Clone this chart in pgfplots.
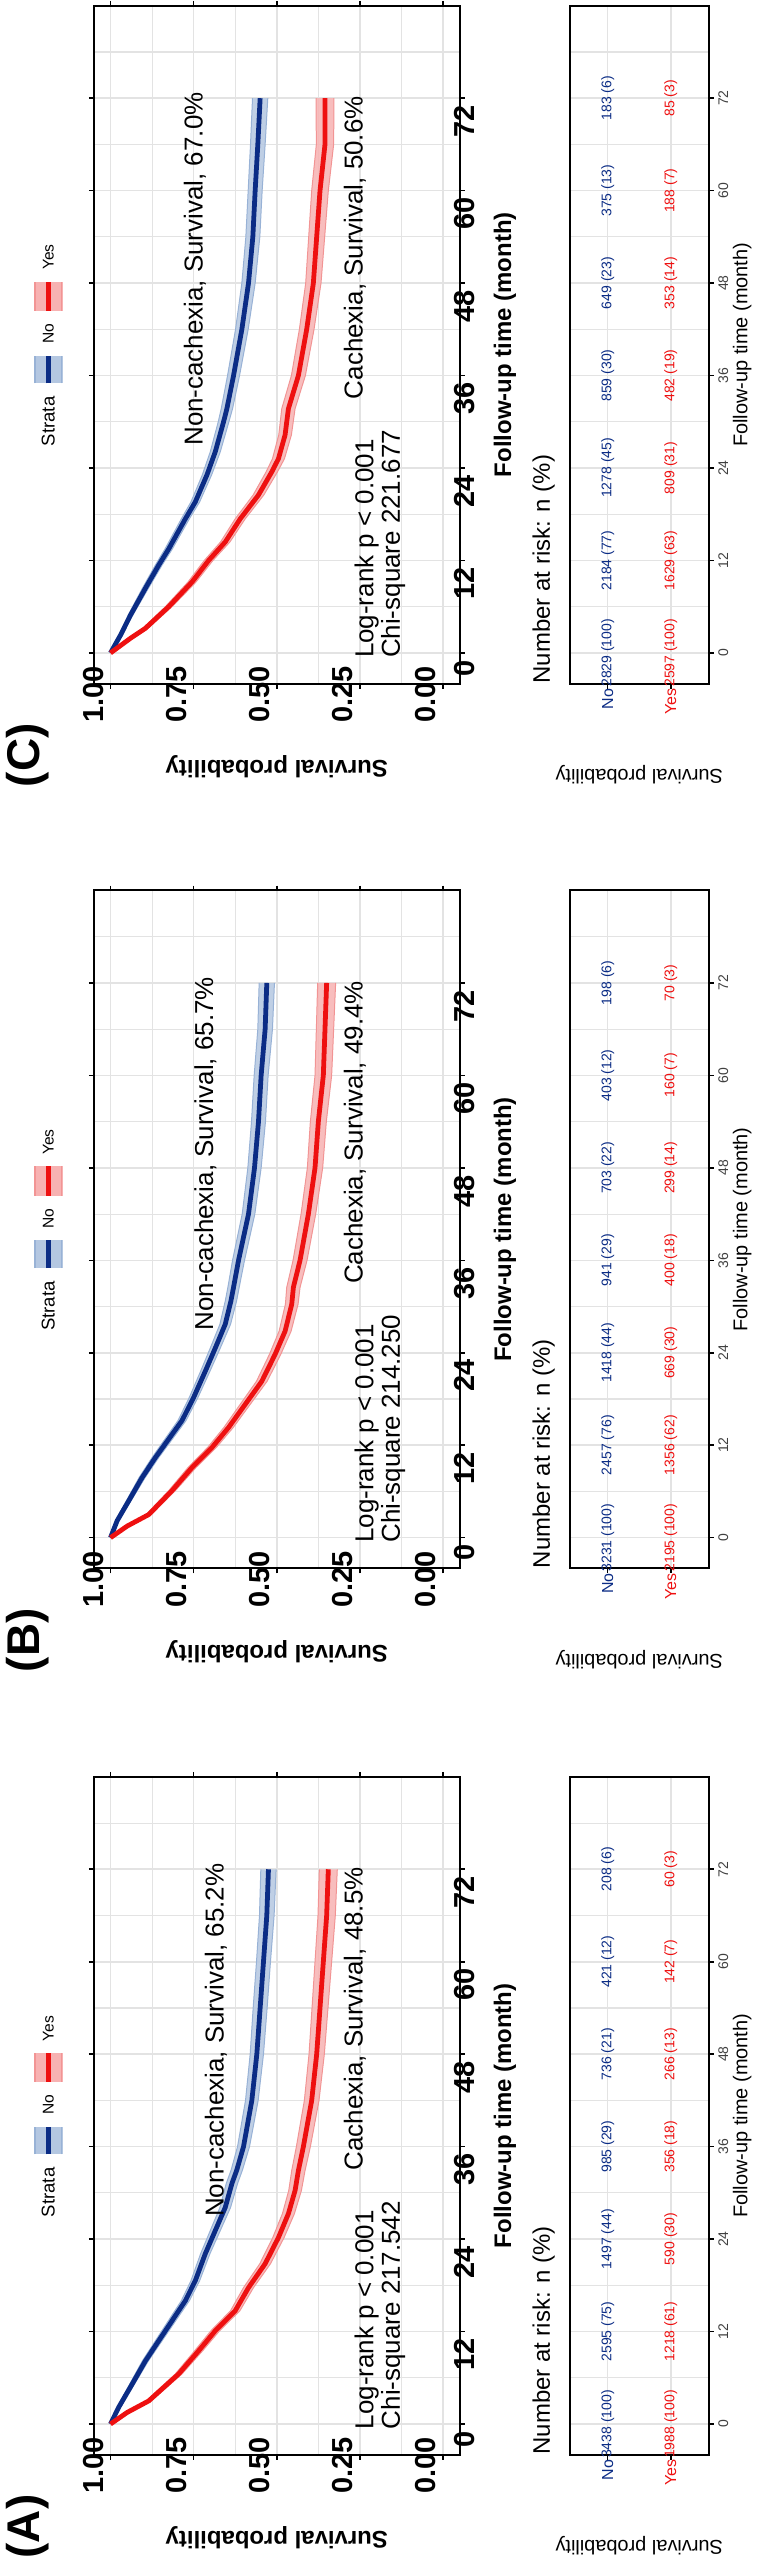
\documentclass[border=0pt]{standalone}
\usepackage{fontspec}
\setmainfont{Liberation Sans}
\usepackage{pgfplots}
\usepackage{pgfplotstable}
\pgfplotsset{compat=1.18}
\usepgfplotslibrary{fillbetween}
\definecolor{navyline}{HTML}{0B2C85}
\definecolor{redline}{HTML}{EE1010}
\definecolor{bandblue}{HTML}{B4C7E1}
\definecolor{bandred}{HTML}{F7B2B2}
\definecolor{edgeblue}{HTML}{98B2D6}
\definecolor{edgered}{HTML}{F29494}
\definecolor{gridc}{HTML}{E3E3E3}

\pgfplotstableread{
t s lo hi
0 1.000 1.000 1.000
2.2 0.975 0.970 0.980
4.8 0.940 0.933 0.947
8.2 0.895 0.886 0.904
10.8 0.855 0.845 0.865
13.4 0.815 0.804 0.826
16.0 0.775 0.763 0.787
18.6 0.745 0.732 0.758
22.1 0.715 0.701 0.729
25.1 0.685 0.670 0.700
28.1 0.655 0.639 0.671
31.2 0.635 0.618 0.652
33.0 0.620 0.603 0.637
36 0.600 0.582 0.618
42 0.575 0.556 0.594
48 0.560 0.540 0.580
54 0.550 0.529 0.571
60 0.540 0.519 0.561
66 0.530 0.508 0.552
72 0.525 0.502 0.548
}\ANo
\pgfplotstableread{
t s lo hi
0 1.000 1.000 1.000
1.5 0.950 0.944 0.956
3.0 0.885 0.877 0.893
6.5 0.795 0.785 0.805
9.5 0.735 0.723 0.747
12.1 0.685 0.672 0.698
14.7 0.625 0.611 0.639
17.7 0.585 0.570 0.600
20.8 0.535 0.519 0.551
24.2 0.495 0.478 0.512
27.3 0.465 0.447 0.483
30.3 0.445 0.426 0.464
32.9 0.435 0.415 0.455
36 0.420 0.399 0.441
42 0.395 0.373 0.417
48 0.380 0.357 0.403
54 0.370 0.346 0.394
60 0.360 0.335 0.385
66 0.350 0.324 0.376
72 0.345 0.318 0.372
}\AYes
\pgfplotstableread{
t s lo hi
0 1.000 1.000 1.000
2.2 0.980 0.975 0.985
4.8 0.945 0.938 0.952
7.8 0.905 0.896 0.914
10.4 0.865 0.855 0.875
12.8 0.825 0.814 0.836
15.2 0.785 0.773 0.797
18.2 0.750 0.737 0.763
21.6 0.715 0.701 0.729
24.6 0.685 0.670 0.700
27.7 0.655 0.639 0.671
30.7 0.638 0.621 0.655
32.5 0.630 0.613 0.647
36 0.615 0.597 0.633
42 0.585 0.566 0.604
48 0.567 0.547 0.587
54 0.555 0.534 0.576
60 0.547 0.526 0.568
66 0.535 0.513 0.557
72 0.530 0.507 0.553
}\BNo
\pgfplotstableread{
t s lo hi
0 1.000 1.000 1.000
1.5 0.950 0.944 0.956
3.0 0.885 0.877 0.893
6.1 0.815 0.805 0.825
9.1 0.755 0.743 0.767
11.7 0.695 0.682 0.708
14.3 0.645 0.631 0.659
17.3 0.595 0.580 0.610
20.3 0.545 0.529 0.561
23.8 0.505 0.488 0.522
26.8 0.475 0.457 0.493
30.3 0.455 0.436 0.474
32.5 0.450 0.430 0.470
36 0.430 0.409 0.451
42 0.405 0.383 0.427
48 0.385 0.362 0.408
54 0.375 0.351 0.399
60 0.360 0.335 0.385
66 0.355 0.329 0.381
72 0.350 0.323 0.377
}\BYes
\pgfplotstableread{
t s lo hi
0 1.000 1.000 1.000
2.3 0.970 0.965 0.975
4.9 0.940 0.933 0.947
8.4 0.895 0.886 0.904
11.4 0.855 0.845 0.865
13.5 0.825 0.814 0.836
17.4 0.775 0.763 0.787
19.6 0.745 0.732 0.758
23.1 0.710 0.696 0.724
26.1 0.685 0.670 0.700
30.0 0.660 0.644 0.676
31.7 0.650 0.633 0.667
36 0.630 0.612 0.648
42 0.605 0.586 0.624
48 0.585 0.565 0.605
54 0.572 0.551 0.593
60 0.565 0.544 0.586
66 0.557 0.535 0.579
72 0.550 0.527 0.573
}\CNo
\pgfplotstableread{
t s lo hi
0 1.000 1.000 1.000
1.9 0.940 0.934 0.946
3.2 0.895 0.887 0.903
6.0 0.825 0.815 0.835
9.2 0.755 0.743 0.767
12.0 0.705 0.692 0.718
14.4 0.655 0.641 0.669
17.4 0.610 0.595 0.625
20.5 0.555 0.539 0.571
23.5 0.515 0.498 0.532
25.2 0.495 0.477 0.513
28.3 0.475 0.456 0.494
31.7 0.465 0.445 0.485
36 0.435 0.414 0.456
42 0.410 0.388 0.432
48 0.390 0.367 0.413
54 0.380 0.356 0.404
60 0.370 0.345 0.395
66 0.355 0.329 0.381
72 0.355 0.328 0.382
}\CYes

\tikzset{annot/.style={inner sep=0pt, font=\fontsize{13}{13.3}\selectfont}}
\pgfplotsset{
  kmaxis/.style={
    scale only axis, width=339.75pt, height=183.3pt, anchor=south west, clip=false,
    xmin=-4, xmax=84, ymin=-0.05, ymax=1.05,
    xtick={0,12,24,36,48,60,72}, xticklabels={0,12,24,36,48,60,72},
    minor xtick={6,18,30,42,54,66,78},
    ytick={0,0.25,0.5,0.75,1}, yticklabels={0.00,0.25,0.50,0.75,1.00},
    minor ytick={0.125,0.375,0.625,0.875},
    grid=both, major grid style={gridc, line width=0.8pt}, minor grid style={gridc, line width=0.55pt},
    axis line style={black, line width=1pt},
    tick align=outside, major tick length=2.5pt, minor tick length=0pt,
    tick style={black, line width=0.8pt},
    ticklabel style={font=\bfseries\fontsize{14.5}{14.5}\selectfont},
    yticklabel shift=3pt,
    /pgf/number format/assume math mode=true,
  },
  riskno/.style={forget plot, draw=none, mark=none,
    nodes near coords, point meta=explicit symbolic,
    every node near coord/.append style={anchor=center, inner sep=0pt, text=navyline, font=\fontsize{7}{7}\selectfont}},
  riskyes/.style={forget plot, draw=none, mark=none,
    nodes near coords, point meta=explicit symbolic,
    every node near coord/.append style={anchor=center, inner sep=0pt, text=redline, font=\fontsize{7}{7}\selectfont}},
}
% decorations of each KM panel (legend, axis titles), in axis units
\newcommand\kmdeco[1]{%
  \node[font=\bfseries\fontsize{12}{12}\selectfont] at (axis cs:40,-0.186) {Follow-up time (month)};
  \node[font=\bfseries\fontsize{12}{12}\selectfont, rotate=90] at (axis cs:-14.75,0.5) {Survival probability};
  \node[font=\bfseries\fontsize{23}{23}\selectfont] at (axis cs:-13.3,1.248) {(#1)};
  \node[font=\fontsize{9.3}{9.3}\selectfont] at (axis cs:30.06,1.187) {Strata};
  \fill[bandblue] (axis cs:35.0,1.1435) rectangle (axis cs:38.6,1.2305);
  \draw[edgeblue, line width=0.6pt] (axis cs:35.0,1.147) -- (axis cs:38.6,1.147) (axis cs:35.0,1.227) -- (axis cs:38.6,1.227);
  \draw[navyline, line width=2.5pt] (axis cs:35.0,1.187) -- (axis cs:38.6,1.187);
  \node[font=\fontsize{7.8}{7.8}\selectfont] at (axis cs:41.45,1.187) {No};
  \fill[bandred] (axis cs:44.4,1.1435) rectangle (axis cs:48.2,1.2305);
  \draw[edgered, line width=0.6pt] (axis cs:44.4,1.147) -- (axis cs:48.2,1.147) (axis cs:44.4,1.227) -- (axis cs:48.2,1.227);
  \draw[redline, line width=2.5pt] (axis cs:44.4,1.187) -- (axis cs:48.2,1.187);
  \node[font=\fontsize{7.8}{7.8}\selectfont] at (axis cs:51.36,1.187) {Yes};
}
% risk table frame below the KM box (rows No at -0.495, Yes at -0.685 in survival units)
\newcommand\tabdeco{%
  \pgfplotsinvokeforeach{6,18,30,42,54,66,78}{\draw[gridc, line width=0.55pt] (axis cs:##1,-0.7996) -- (axis cs:##1,-0.381);}
  \pgfplotsinvokeforeach{0,12,24,36,48,60,72}{\draw[gridc, line width=0.8pt] (axis cs:##1,-0.7996) -- (axis cs:##1,-0.381);}
  \draw[gridc, line width=0.8pt] (axis cs:-4,-0.495) -- (axis cs:84,-0.495) (axis cs:-4,-0.685) -- (axis cs:84,-0.685);
  \draw[black, line width=1pt] (axis cs:-4,-0.7996) rectangle (axis cs:84,-0.381);
  \pgfplotsinvokeforeach{0,12,24,36,48,60,72}{%
    \draw[black, line width=0.8pt] (axis cs:##1,-0.7996) -- ++(0pt,-2.5pt);
    \node[font=\fontsize{7}{7}\selectfont, text=black!75] at (axis cs:##1,-0.843) {##1};}
  \draw[black, line width=0.8pt] (axis cs:-4,-0.495) -- ++(-2.5pt,0pt) (axis cs:-4,-0.685) -- ++(-2.5pt,0pt);
  \node[anchor=east, inner sep=0pt, text=navyline, font=\fontsize{8}{8}\selectfont] at (axis cs:-4.6,-0.495) {No};
  \node[anchor=east, inner sep=0pt, text=redline, font=\fontsize{8}{8}\selectfont] at (axis cs:-4.6,-0.685) {Yes};
  \node[font=\fontsize{10}{10}\selectfont] at (axis cs:40,-0.9) {Follow-up time (month)};
  \node[font=\fontsize{10}{10}\selectfont, rotate=90] at (axis cs:-15.8,-0.59) {Survival probability};
  \node[font=\fontsize{12}{12}\selectfont, anchor=west, inner sep=0pt] at (axis cs:-4,-0.303) {Number at risk: n (\%)};
}

\begin{document}
\begin{tikzpicture}[rotate=90, transform shape]

% ================= Panel A =================
\begin{axis}[kmaxis, at={(52.5pt,-230.8pt)}]
\addplot[forget plot, name path=anl, draw=edgeblue, line width=0.5pt] table[x=t,y=lo]{\ANo};
\addplot[forget plot, name path=anh, draw=edgeblue, line width=0.5pt] table[x=t,y=hi]{\ANo};
\addplot[forget plot, bandblue, fill opacity=0.85] fill between[of=anl and anh];
\addplot[forget plot, name path=ayl, draw=edgered, line width=0.5pt] table[x=t,y=lo]{\AYes};
\addplot[forget plot, name path=ayh, draw=edgered, line width=0.5pt] table[x=t,y=hi]{\AYes};
\addplot[forget plot, bandred, fill opacity=0.85] fill between[of=ayl and ayh];
\addplot[forget plot, navyline, line width=2.4pt] table[x=t,y=s]{\ANo};
\addplot[forget plot, redline, line width=2.4pt] table[x=t,y=s]{\AYes};
\node[annot, anchor=east] at (axis cs:72.8,0.683) {Non-cachexia, Survival, 65.2\%};
\node[annot, anchor=east] at (axis cs:72.3,0.265) {Cachexia, Survival, 48.5\%};
\node[annot, anchor=west, align=left] at (axis cs:-0.7,0.19) {Log-rank p < 0.001\\Chi-square 217.542};
\kmdeco{A}
\tabdeco
\addplot[riskno] table[col sep=comma, row sep=\\, x=t, y=r, meta=lab] {t,r,lab\\0,-0.495,3438 (100)\\12,-0.495,2595 (75)\\24,-0.495,1497 (44)\\36,-0.495,985 (29)\\48,-0.495,736 (21)\\60,-0.495,421 (12)\\72,-0.495,208 (6)\\};
\addplot[riskyes] table[col sep=comma, row sep=\\, x=t, y=r, meta=lab] {t,r,lab\\0,-0.685,1988 (100)\\12,-0.685,1218 (61)\\24,-0.685,590 (30)\\36,-0.685,356 (18)\\48,-0.685,266 (13)\\60,-0.685,142 (7)\\72,-0.685,60 (3)\\};
\end{axis}

% ================= Panel B =================
\begin{axis}[kmaxis, at={(496.65pt,-230.8pt)}]
\addplot[forget plot, name path=bnl, draw=edgeblue, line width=0.5pt] table[x=t,y=lo]{\BNo};
\addplot[forget plot, name path=bnh, draw=edgeblue, line width=0.5pt] table[x=t,y=hi]{\BNo};
\addplot[forget plot, bandblue, fill opacity=0.85] fill between[of=bnl and bnh];
\addplot[forget plot, name path=byl, draw=edgered, line width=0.5pt] table[x=t,y=lo]{\BYes};
\addplot[forget plot, name path=byh, draw=edgered, line width=0.5pt] table[x=t,y=hi]{\BYes};
\addplot[forget plot, bandred, fill opacity=0.85] fill between[of=byl and byh];
\addplot[forget plot, navyline, line width=2.4pt] table[x=t,y=s]{\BNo};
\addplot[forget plot, redline, line width=2.4pt] table[x=t,y=s]{\BYes};
\node[annot, anchor=east] at (axis cs:72.8,0.715) {Non-cachexia, Survival, 65.7\%};
\node[annot, anchor=east] at (axis cs:72.3,0.265) {Cachexia, Survival, 49.4\%};
\node[annot, anchor=west, align=left] at (axis cs:-0.7,0.19) {Log-rank p < 0.001\\Chi-square 214.250};
\kmdeco{B}
\tabdeco
\addplot[riskno] table[col sep=comma, row sep=\\, x=t, y=r, meta=lab] {t,r,lab\\0,-0.495,3231 (100)\\12,-0.495,2457 (76)\\24,-0.495,1418 (44)\\36,-0.495,941 (29)\\48,-0.495,703 (22)\\60,-0.495,403 (12)\\72,-0.495,198 (6)\\};
\addplot[riskyes] table[col sep=comma, row sep=\\, x=t, y=r, meta=lab] {t,r,lab\\0,-0.685,2195 (100)\\12,-0.685,1356 (62)\\24,-0.685,669 (30)\\36,-0.685,400 (18)\\48,-0.685,299 (14)\\60,-0.685,160 (7)\\72,-0.685,70 (3)\\};
\end{axis}

% ================= Panel C =================
\begin{axis}[kmaxis, at={(940pt,-230.8pt)}]
\addplot[forget plot, name path=cnl, draw=edgeblue, line width=0.5pt] table[x=t,y=lo]{\CNo};
\addplot[forget plot, name path=cnh, draw=edgeblue, line width=0.5pt] table[x=t,y=hi]{\CNo};
\addplot[forget plot, bandblue, fill opacity=0.85] fill between[of=cnl and cnh];
\addplot[forget plot, name path=cyl, draw=edgered, line width=0.5pt] table[x=t,y=lo]{\CYes};
\addplot[forget plot, name path=cyh, draw=edgered, line width=0.5pt] table[x=t,y=hi]{\CYes};
\addplot[forget plot, bandred, fill opacity=0.85] fill between[of=cyl and cyh];
\addplot[forget plot, navyline, line width=2.4pt] table[x=t,y=s]{\CNo};
\addplot[forget plot, redline, line width=2.4pt] table[x=t,y=s]{\CYes};
\node[annot, anchor=east] at (axis cs:72.8,0.746) {Non-cachexia, Survival, 67.0\%};
\node[annot, anchor=east] at (axis cs:72.3,0.265) {Cachexia, Survival, 50.6\%};
\node[annot, anchor=west, align=left] at (axis cs:-0.7,0.19) {Log-rank p < 0.001\\Chi-square 221.677};
\kmdeco{C}
\tabdeco
\addplot[riskno] table[col sep=comma, row sep=\\, x=t, y=r, meta=lab] {t,r,lab\\0,-0.495,2829 (100)\\12,-0.495,2184 (77)\\24,-0.495,1278 (45)\\36,-0.495,859 (30)\\48,-0.495,649 (23)\\60,-0.495,375 (13)\\72,-0.495,183 (6)\\};
\addplot[riskyes] table[col sep=comma, row sep=\\, x=t, y=r, meta=lab] {t,r,lab\\0,-0.685,2597 (100)\\12,-0.685,1629 (63)\\24,-0.685,809 (31)\\36,-0.685,482 (19)\\48,-0.685,353 (14)\\60,-0.685,188 (7)\\72,-0.685,85 (3)\\};
\end{axis}
\end{tikzpicture}
\end{document}
